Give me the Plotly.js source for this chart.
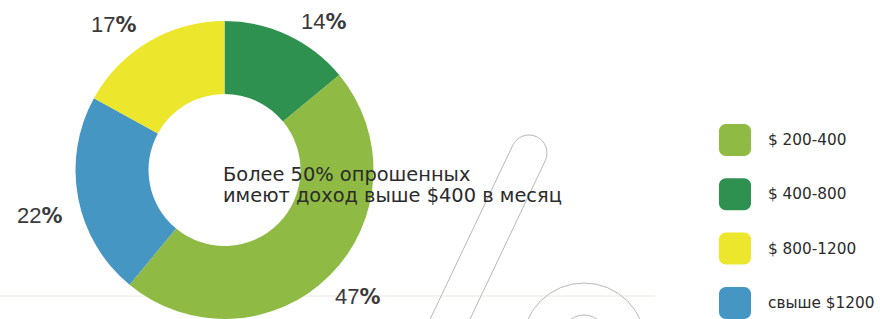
<!DOCTYPE html>
<html>
<head>
<meta charset="utf-8">
<script src="https://cdn.plot.ly/plotly-3.0.1.min.js"></script>
<style>html,body{margin:0;padding:0;background:#fff;}#chart{width:880px;height:319px;}</style>
</head>
<body>
<div id="chart"></div>
<script>
// ---- data ----
const categories = ['$ 200-400', '$ 400-800', '$ 800-1200', 'свыше $1200'];
const values = [47, 14, 17, 22];
const colors = ['#8fbb44', '#2f9150', '#ece72c', '#4596c3'];
const centerLines = ['Более 50% опрошенных', 'имеют доход выше $400 в месяц'];
// clockwise order of the slices starting at 12 o'clock
const sliceOrder = [1, 0, 3, 2];

// ---- layout helpers (pixel -> paper) ----
const W = 880, H = 319;
const px = x => x / W;
const py = y => 1 - y / H;

const pie = {
  type: 'pie',
  values: sliceOrder.map(i => values[i]),
  labels: sliceOrder.map(i => categories[i]),
  marker: { colors: sliceOrder.map(i => colors[i]), line: { width: 0 } },
  hole: 0.51,
  sort: false,
  direction: 'clockwise',
  rotation: 0,
  textinfo: 'none',
  hoverinfo: 'none',
  showlegend: false,
  domain: { x: [px(74.5), px(374.5)], y: [0, 298 / H] }
};

// percentage label positions (pixel centres), indexed like categories
const pctPos = [[358, 296], [324, 21], [114, 25], [40, 215]];

const annotations = [];
values.forEach((v, i) => {
  annotations.push({
    xref: 'paper', yref: 'paper', x: px(pctPos[i][0]), y: py(pctPos[i][1]),
    xanchor: 'center', yanchor: 'middle', showarrow: false,
    text: v + '<span style="font-weight:bold;font-family:DejaVu Sans;font-size:21px">%</span>',
    font: { family: 'Liberation Sans, Arial, sans-serif', size: 22, color: '#3a3a3a' }
  });
});
centerLines.forEach((t, i) => {
  annotations.push({
    xref: 'paper', yref: 'paper', x: px(221), y: py(174 + i * 21.5),
    xanchor: 'left', yanchor: 'middle', showarrow: false, text: t,
    font: { family: 'DejaVu Sans, sans-serif', size: 19.4, color: '#2b2b2b' }
  });
});

// custom legend
const shapes = [];
const legX = 719, legSize = 32, legR = 7, legY0 = 124, legStep = 54.3;
function roundRect(x0, y0, w, h, r) {
  const k = 0.45 * r;
  const P = (x, y) => px(x) + ',' + py(y);
  return 'M' + P(x0 + r, y0) + ' L' + P(x0 + w - r, y0) +
    ' C' + P(x0 + w - k, y0) + ' ' + P(x0 + w, y0 + k) + ' ' + P(x0 + w, y0 + r) +
    ' L' + P(x0 + w, y0 + h - r) +
    ' C' + P(x0 + w, y0 + h - k) + ' ' + P(x0 + w - k, y0 + h) + ' ' + P(x0 + w - r, y0 + h) +
    ' L' + P(x0 + r, y0 + h) +
    ' C' + P(x0 + k, y0 + h) + ' ' + P(x0, y0 + h - k) + ' ' + P(x0, y0 + h - r) +
    ' L' + P(x0, y0 + r) +
    ' C' + P(x0, y0 + k) + ' ' + P(x0 + k, y0) + ' ' + P(x0 + r, y0) + ' Z';
}
categories.forEach((c, i) => {
  const y0 = legY0 + i * legStep;
  shapes.push({
    type: 'path', xref: 'paper', yref: 'paper',
    path: roundRect(legX, y0, legSize, legSize, legR),
    fillcolor: colors[i], line: { width: 0 }
  });
  annotations.push({
    xref: 'paper', yref: 'paper', x: px(766), y: py(y0 + legSize / 2),
    xanchor: 'left', yanchor: 'middle', showarrow: false, text: c,
    font: { family: 'DejaVu Sans, sans-serif', size: 15.3, color: '#2b2b2b' }
  });
});

// decorative elements: baseline rule and big outlined "%"
shapes.push({
  type: 'line', xref: 'paper', yref: 'paper', layer: 'below',
  x0: 0, x1: px(655), y0: py(296), y1: py(296),
  line: { color: '#ecebdb', width: 1.2 }
});
(function slash() {
  const cx = 529, cy = 153, r = 18;
  const d = [-0.429, 0.903], n = [0.903, 0.429];
  const L = [cx - r * n[0], cy - r * n[1]], R = [cx + r * n[0], cy + r * n[1]];
  const A = [cx - r * d[0], cy - r * d[1]]; // cap apex (opposite direction of d)
  const len = 220, k = 0.552 * r;
  const P = p => px(p[0]) + ',' + py(p[1]);
  const LB = [L[0] + len * d[0], L[1] + len * d[1]];
  const RB = [R[0] + len * d[0], R[1] + len * d[1]];
  const c1 = [L[0] - k * d[0], L[1] - k * d[1]];
  const c2 = [A[0] - k * n[0], A[1] - k * n[1]];
  const c3 = [A[0] + k * n[0], A[1] + k * n[1]];
  const c4 = [R[0] - k * d[0], R[1] - k * d[1]];
  shapes.push({
    type: 'path', xref: 'paper', yref: 'paper', layer: 'below',
    path: 'M' + P(LB) + ' L' + P(L) + ' C' + P(c1) + ' ' + P(c2) + ' ' + P(A) +
      ' C' + P(c3) + ' ' + P(c4) + ' ' + P(R) + ' L' + P(RB),
    line: { color: '#b8b8b8', width: 1 }
  });
})();
shapes.push({
  type: 'circle', xref: 'paper', yref: 'paper', layer: 'below',
  x0: px(584 - 61.5), x1: px(584 + 61.5), y0: py(344.5 - 61.5), y1: py(344.5 + 61.5),
  line: { color: '#b8b8b8', width: 1 }
});
shapes.push({
  type: 'circle', xref: 'paper', yref: 'paper', layer: 'below',
  x0: px(584 - 21.5), x1: px(584 + 21.5), y0: py(336.5 - 21.5), y1: py(336.5 + 21.5),
  line: { color: '#b8b8b8', width: 1 }
});

const layout = {
  width: W, height: H,
  margin: { l: 0, r: 0, t: 0, b: 0, pad: 0 },
  paper_bgcolor: '#ffffff', plot_bgcolor: '#ffffff',
  showlegend: false,
  annotations: annotations,
  shapes: shapes
};

Plotly.newPlot('chart', [pie], layout, { staticPlot: true, displayModeBar: false });
</script>
</body>
</html>
